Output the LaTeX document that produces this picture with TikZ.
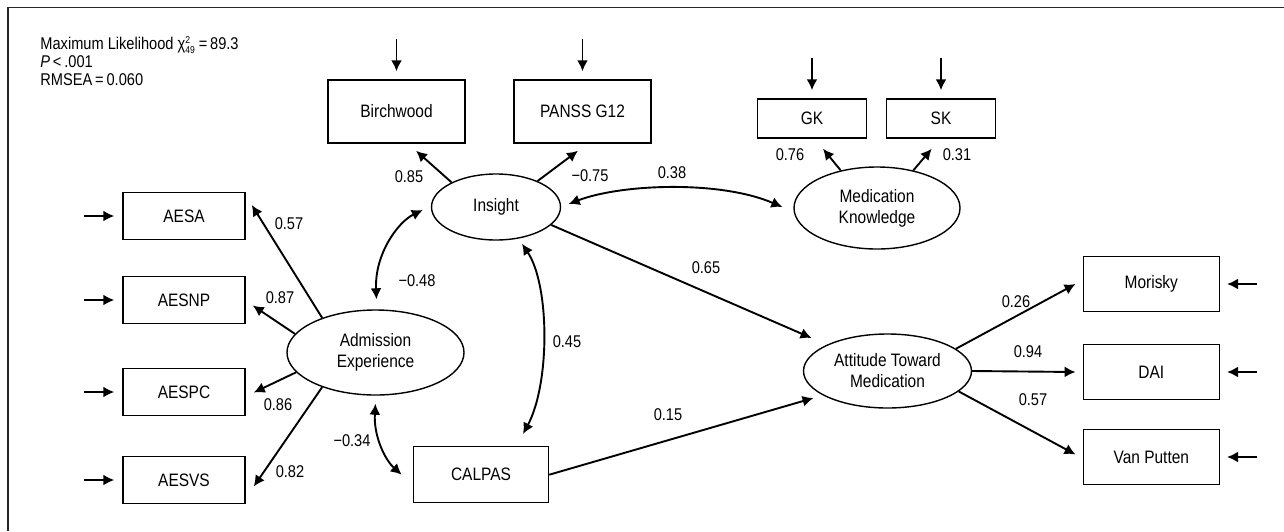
\documentclass[tikz,border=0pt]{standalone}
\usepackage{fontspec}
\setmainfont[FakeStretch=0.86]{Liberation Sans}
\usetikzlibrary{arrows.meta,calc,shapes.geometric}

% chi square with its degrees of freedom
\newcommand{\chisqdf}{χ$^{\mbox{\fontsize{5}{5}\selectfont 2}}_{\mbox{\fontsize{5}{5}\selectfont 49}}$}

\begin{document}
\begin{tikzpicture}[x=0.5pt,y=-0.5pt,
    obs/.style={draw, line width=0.75pt, inner sep=0pt, font=\fontsize{9}{10.5}\selectfont},
    lat/.style={draw, ellipse, line width=0.7pt, inner sep=0pt, align=center, font=\fontsize{9}{10.5}\selectfont},
    load/.style={-{Latex[length=5.5pt,width=5.5pt]}, line width=0.95pt},
    cov/.style={{Latex[length=5.5pt,width=5.5pt]}-{Latex[length=5.5pt,width=5.5pt]}, line width=0.95pt},
    coef/.style={font=\fontsize{8.5}{10}\selectfont, inner sep=1pt}]
  \useasboundingbox (0,0) rectangle (1284,531);

  % frame
  \draw[line width=0.75pt, black!85] (8,531) -- (8,7.5) -- (1284,7.5);

  % fit statistics
  \node[anchor=north west, align=left, inner sep=0pt, font=\fontsize{8.5}{9.2}\selectfont] (fit) at (40,36)
    {Maximum Likelihood \chisqdf\,=\,89.3\\\textit{P}\,<\,.001\\RMSEA\,=\,0.060};

  % observed variables
  \node[obs, minimum width=68.5pt, minimum height=31.5pt] (birch) at (396.5,111.5) {Birchwood};
  \node[obs, minimum width=68.5pt, minimum height=31.5pt] (panss) at (582.5,111.5) {PANSS G12};
  \node[obs, minimum width=54.5pt, minimum height=19.5pt] (gk) at (812,118.5) {GK};
  \node[obs, minimum width=54.5pt, minimum height=19.5pt] (sk) at (941,118.5) {SK};
  \node[obs, minimum width=67.5pt, minimum height=28pt] (calpas) at (481,474.7) {CALPAS};
  \foreach \name/\txt/\yy in {aesa/AESA/216, aesnp/AESNP/300, aespc/AESPC/392, aesvs/AESVS/480}
    \node[obs, minimum width=61pt, minimum height=23.5pt] (\name) at (184,\yy) {\txt};
  \foreach \name/\txt/\yy in {mor/Morisky/284, dai/DAI/372, vp/Van Putten/457}
    \node[obs, minimum width=68pt, minimum height=27.5pt] (\name) at (1151.3,\yy) {\txt};

  % error terms
  \foreach \name in {birch,panss,gk,sk} {
    \coordinate (e\name) at ($(\name.north)+(0,-40)$);
    \draw[load] (e\name) -- ($(\name.north)+(0,-8)$);
  }
  \foreach \name in {aesa,aesnp,aespc,aesvs} {
    \coordinate (e\name) at ($(\name.west)+(-38,0)$);
    \draw[load] (e\name) -- ($(\name.west)+(-8,0)$);
  }
  \foreach \name in {mor,dai,vp} {
    \coordinate (e\name) at ($(\name.east)+(37,0)$);
    \draw[load] (e\name) -- ($(\name.east)+(7,0)$);
  }

  % latent variables
  \node[lat, minimum width=64.5pt, minimum height=33pt] (insight) at (496,207) {Insight};
  \node[lat, minimum width=83pt, minimum height=41pt] (medk) at (877,208) {Medication\\Knowledge};
  \node[lat, minimum width=88.5pt, minimum height=42.5pt] (admit) at (375.5,352.5) {Admission\\Experience};
  \node[lat, minimum width=84pt, minimum height=37pt] (att) at (887.5,371) {Attitude Toward\\Medication};

  % loadings
  \draw[load] (insight.151) -- ($(birch.south)+(19.5,7)$);
  \draw[load] (insight.32) -- ($(panss.south)+(-4.5,7)$);
  \draw[load] (medk.134) -- ($(gk.south)+(11,10)$);
  \draw[load] (medk.46) -- ($(sk.south)+(-9.3,10)$);
  \draw[load] (admit.147) -- ($(aesa.east)+(6,-11)$);
  \draw[load] (admit.167) -- ($(aesnp.east)+(7,5.5)$);
  \draw[load] (admit.194.5) -- ($(aespc.east)+(8,0.5)$);
  \draw[load] (admit.213) -- ($(aesvs.east)+(8,6.5)$);
  \draw[load] (att.18) -- ($(mor.west)+(-7,0)$);
  \draw[load] (att.east) -- ($(dai.west)+(-7,0)$);
  \draw[load] (att.-16) -- ($(vp.west)+(-7,-2.5)$);

  % paths
  \draw[load] (insight.-18) -- ($(att.center)+(-76,-33)$);
  \draw[load] (calpas.east) -- ($(att.center)+(-74,27)$);

  % correlations
  \draw[cov] ($(insight.east)+(7.5,-3)$) .. controls +(52,-20) and +(-63,-27) .. ($(medk.west)+(-11,-1)$);
  \draw[cov] ($(insight.west)+(-8,3)$) .. controls +(-25,12) and +(-2,-45) .. ($(admit.north)+(1,-10)$);
  \draw[cov] ($(insight.south)+(26,3)$) .. controls +(28,42) and +(27,-50) .. ($(calpas.north)+(42,-12)$);
  \draw[cov] ($(admit.south)+(0,8)$) .. controls +(-2,32) and +(-17,-15) .. ($(calpas.west)+(-11,0)$);

  % coefficients
  \node[coef] (cBirch) at (409,177) {0.85};
  \node[coef] (cPanss) at (590,176) {−0.75};
  \node[coef] (cMedk) at (672,173) {0.38};
  \node[coef] (cGk) at (790,155) {0.76};
  \node[coef] (cSk) at (957,155) {0.31};
  \node[coef] (cAtt) at (706,268) {0.65};
  \node[coef] (cAesa) at (289,224) {0.57};
  \node[coef] (cAesnp) at (280,298) {0.87};
  \node[coef] (cAespc) at (278,405) {0.86};
  \node[coef] (cAesvs) at (290,472) {0.82};
  \node[coef] (cAdmit) at (417,281) {−0.48};
  \node[coef] (cCalpas) at (567,342) {0.45};
  \node[coef] (cAdCal) at (352,441) {−0.34};
  \node[coef] (cCalAtt) at (668,415) {0.15};
  \node[coef] (cMor) at (1016,302) {0.26};
  \node[coef] (cDai) at (1028,352) {0.94};
  \node[coef] (cVp) at (1033,400) {0.57};
\end{tikzpicture}
\end{document}
